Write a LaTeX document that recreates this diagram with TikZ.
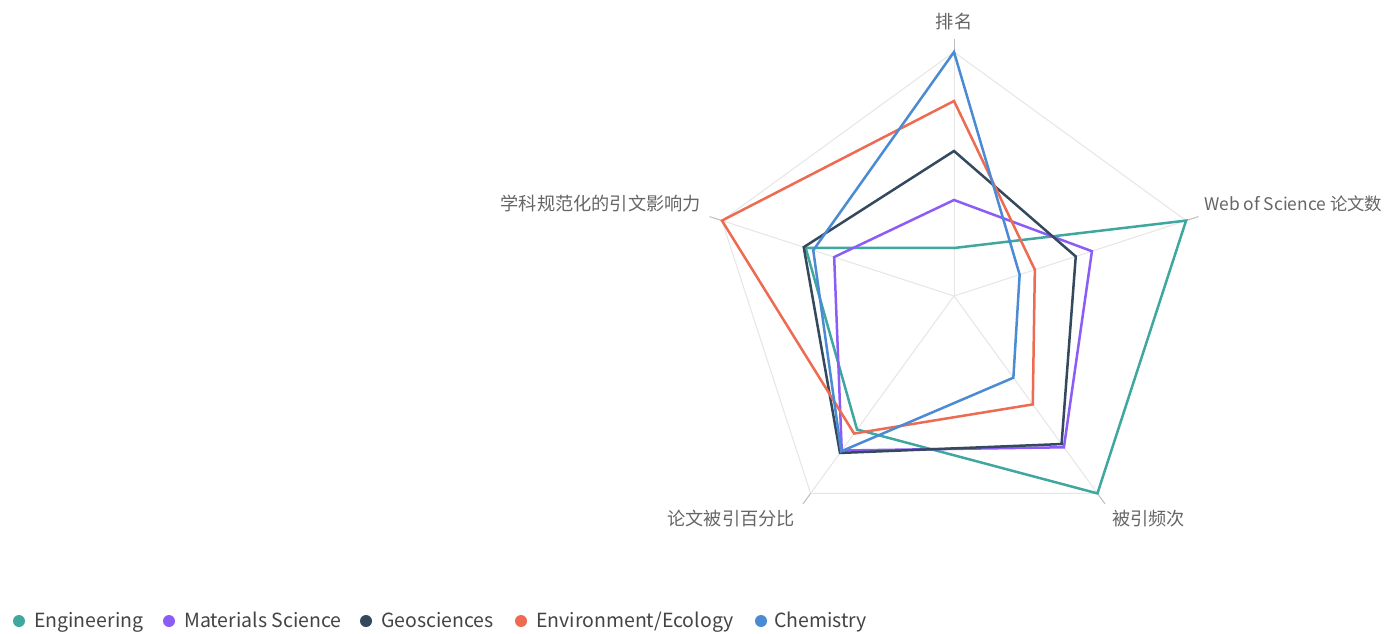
\documentclass[tikz,border=0pt]{standalone}
\usepackage{fontspec}
\setmainfont{Noto Sans CJK SC}
\definecolor{engc}{HTML}{3FA7A0}
\definecolor{matc}{HTML}{8B5CF6}
\definecolor{geoc}{HTML}{34495E}
\definecolor{envc}{HTML}{EE6A51}
\definecolor{chemc}{HTML}{4A8BD3}
\definecolor{gridc}{HTML}{E6E6E6}
\definecolor{tickc}{HTML}{BDBDBD}
\definecolor{labc}{HTML}{666666}
\definecolor{legc}{HTML}{444444}
\newcommand\radarline[6]{\draw[#1] ([shift={(90:#2)}]C) -- ([shift={(18:#3)}]C) -- ([shift={(-54:#4)}]C) -- ([shift={(-126:#5)}]C) -- ([shift={(162:#6)}]C) -- cycle;}
\begin{document}
\begin{tikzpicture}[x=1pt,y=1pt,
  gridline/.style={draw=gridc,line width=1pt},
  tickline/.style={draw=tickc,line width=1pt},
  series/.style={line width=2.5pt,line join=miter},
  axlab/.style={text=labc,font=\fontsize{18.2}{20}\selectfont,inner sep=0pt},
  legtext/.style={text=legc,font=\fontsize{19.5}{22}\selectfont,inner sep=0pt,anchor=base west},
  legdot/.style={circle,inner sep=0pt,minimum size=12pt}]
\useasboundingbox[fill=white] (0,0) rectangle (1388,633);
\coordinate (C) at (954,337);
\foreach \a/\n in {90/t,18/ur,-54/lr,-126/ll,162/ul}{
  \coordinate (v\n) at ([shift={(\a:244)}]C);
  \coordinate (e\n) at ([shift={(\a:257)}]C);
}
\draw[gridline] (vt)--(vur)--(vlr)--(vll)--(vul)--cycle;
\foreach \n in {t,ur,lr,ll,ul}{
  \draw[gridline] (C)--(v\n);
  \draw[tickline] (v\n)--(e\n);
}
% series
\radarline{series,engc}{48}{244}{244}{165}{156}
\radarline{series,matc}{96}{145}{187}{191}{126}
\radarline{series,geoc}{145}{128}{183}{194}{158}
\radarline{series,envc}{195}{85}{134}{170}{244}
\radarline{series,chemc}{244}{69}{101}{192}{148}
% axis labels
\node[axlab,anchor=base] (lt) at (954,604) {排名};
\node[axlab,anchor=base west,font=\fontsize{17.4}{20}\selectfont] (lur) at (1204,423) {Web of Science 论文数};
\node[axlab,anchor=base east] (lul) at (701,423) {学科规范化的引文影响力};
\node[axlab,anchor=base west] (llr) at (1112,108) {被引频次};
\node[axlab,anchor=base east] (lll) at (795,108) {论文被引百分比};
% legend
\node[legdot,fill=engc] (d1) at (19,12) {};
\node[legtext] (t1) at (34,6) {Engineering};
\node[legdot,fill=matc] (d2) at (169,12) {};
\node[legtext] (t2) at (184,6) {Materials Science};
\node[legdot,fill=geoc] (d3) at (366,12) {};
\node[legtext] (t3) at (381,6) {Geosciences};
\node[legdot,fill=envc] (d4) at (521,12) {};
\node[legtext] (t4) at (536,6) {Environment/Ecology};
\node[legdot,fill=chemc] (d5) at (761,12) {};
\node[legtext] (t5) at (774,6) {Chemistry};
\end{tikzpicture}
\end{document}
